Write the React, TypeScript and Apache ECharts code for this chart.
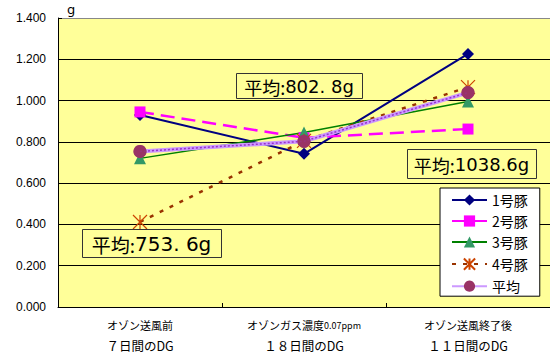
import React, { useEffect, useRef } from "react";
import * as echarts from "echarts";

// Daily gain (kg/day) per pig across the three ozone periods
const catTop = ["オゾン送風前", "オゾンガス濃度0.07ppm", "オゾン送風終了後"];
const catBottom = ["７日間のDG", "１８日間のDG", "１１日間のDG"];

const pig1 = [0.93, 0.742, 1.226];
const pig2 = [0.945, 0.82, 0.862];
const pig3 = [0.72, 0.845, 0.995];
const pig4 = [0.412, 0.805, 1.065];
const average = [0.7536, 0.8028, 1.0386];

const seriesNames = ["1号豚", "2号豚", "3号豚", "4号豚", "平均"];
const yTicks = [0, 0.2, 0.4, 0.6, 0.8, 1.0, 1.2, 1.4];

// decimal separator used in each average callout
const avgSep = [". ", ". ", "."];

const CJK = '"Noto Sans CJK JP", "Noto Sans CJK SC", sans-serif';

function avgText(v: number, sep: string): string {
  const s = (v * 1000).toFixed(1).split(".");
  return `{h|平均:}{n|${s[0]}${sep}${s[1]}g}`;
}

// callout boxes: [x, y, w, h, cjkSize, numSize]
const boxes: number[][] = [
  [82, 229, 139, 28, 19, 20],
  [236, 73, 126, 25, 18, 18],
  [407, 149, 129, 29, 18, 18],
];

export default function App() {
  const ref = useRef<HTMLDivElement>(null);

  useEffect(() => {
    if (!ref.current) return;
    const chart = echarts.init(ref.current, null, { renderer: "svg" });

    const callouts = boxes.map((b, i) => ({
      type: "group",
      children: [
        {
          type: "rect",
          shape: { x: b[0] + 0.5, y: b[1] + 0.5, width: b[2], height: b[3] },
          style: { fill: "none", stroke: "#333", lineWidth: 1 },
          z: 20,
        },
        {
          type: "text",
          x: b[0] + b[2] / 2,
          y: b[1] + b[3] / 2 + 1,
          z: 21,
          style: {
            text: avgText(average[i], avgSep[i]),
            align: "center",
            verticalAlign: "middle",
            fill: "#000",
            rich: {
              h: { fontFamily: CJK, fontSize: b[4], fill: "#000" },
              n: { fontFamily: '"DejaVu Sans", sans-serif', fontSize: b[5], fill: "#000" },
            },
          },
        },
      ],
    }));

    chart.setOption({
      animation: false,
      backgroundColor: "#fff",
      grid: {
        left: 58,
        top: 18,
        width: 495,
        height: 289,
        show: true,
        backgroundColor: "#FFFF99",
        borderWidth: 0,
      },
      legend: {
        data: seriesNames,
        orient: "vertical",
        left: 440,
        top: 188,
        padding: [5, 12, 3, 11],
        itemWidth: 35,
        itemHeight: 14,
        itemGap: 7,
        backgroundColor: "#fff",
        borderColor: "#000",
        borderWidth: 1,
        borderRadius: 0,
        textStyle: { fontFamily: CJK, fontSize: 14, color: "#000", lineHeight: 14 },
      },
      xAxis: {
        type: "category",
        data: catTop.map((t, i) => t + "\n" + catBottom[i]),
        boundaryGap: true,
        axisLine: { lineStyle: { color: "#000", width: 1 } },
        axisTick: { show: true, inside: true, length: 4, interval: 0, lineStyle: { color: "#000" } },
        axisLabel: {
          interval: 0,
          margin: 8,
          formatter: (v: string) => {
            const [a, b] = v.split("\n");
            const top = a.replace(/([0-9.]+ppm)/, "}{s|$1}{a|");
            return `{a|${top}}\n{b|${b}}`;
          },
          rich: {
            a: { fontFamily: CJK, fontSize: 11, color: "#000", lineHeight: 20 },
            s: { fontFamily: CJK, fontSize: 9, color: "#000", lineHeight: 20 },
            b: { fontFamily: CJK, fontSize: 12.5, color: "#000", lineHeight: 20 },
          },
        },
      },
      yAxis: {
        type: "value",
        min: yTicks[0],
        max: yTicks[yTicks.length - 1],
        interval: 0.2,
        axisLine: { show: true, lineStyle: { color: "#000", width: 1 } },
        axisTick: { show: true, inside: true, length: 4, lineStyle: { color: "#000" } },
        axisLabel: {
          margin: 12,
          fontFamily: '"Liberation Sans", Arial, sans-serif',
          fontSize: 12,
          color: "#000",
          formatter: (v: number) => v.toFixed(3),
        },
        splitLine: {
          lineStyle: {
            color: ["#000", "#000", "#000", "#000", "#000", "#000", "#000", "#888"],
            width: 1,
          },
        },
      },
      graphic: [
        {
          type: "text",
          x: 67,
          y: 3,
          style: { text: "g", fontFamily: '"DejaVu Sans", sans-serif', fontSize: 13, fill: "#000" },
        },
        ...callouts,
      ],
      series: [
        {
          name: "1号豚",
          type: "line",
          data: pig1,
          symbol: "diamond",
          symbolSize: 12,
          z: 3,
          lineStyle: { color: "#000080", width: 2 },
          itemStyle: { color: "#000080" },
        },
        {
          name: "2号豚",
          type: "line",
          data: pig2,
          symbol: "rect",
          symbolSize: 11,
          z: 3,
          lineStyle: { color: "#FF00FF", width: 2.5, type: [14, 7] },
          itemStyle: { color: "#FF00FF" },
        },
        {
          name: "3号豚",
          type: "line",
          data: pig3,
          symbol: "triangle",
          symbolSize: 12,
          z: 3,
          lineStyle: { color: "#008000", width: 1.5 },
          itemStyle: { color: "#339966" },
        },
        {
          name: "4号豚",
          type: "line",
          data: pig4,
          symbol: "path://M0,0L10,10M10,0L0,10M5,0L5,10",
          symbolSize: 14,
          z: 3,
          lineStyle: { color: "#993300", width: 2.5, type: [4, 7] },
          itemStyle: { color: "none", borderColor: "#CC4400", borderWidth: 1.2 },
        },
        {
          name: "平均",
          type: "line",
          data: average,
          symbol: "circle",
          symbolSize: 13,
          z: 4,
          lineStyle: { color: "#CC99FF", width: 4 },
          itemStyle: { color: "#993366" },
        },
        {
          name: "平均-dots",
          type: "line",
          data: average,
          symbol: "none",
          silent: true,
          z: 5,
          lineStyle: { color: "#9933CC", width: 1.5, type: [2, 2] },
        },
        {
          name: "平均-marks",
          type: "scatter",
          data: average,
          symbol: "circle",
          symbolSize: 13,
          silent: true,
          z: 6,
          itemStyle: { color: "#993366" },
        },
      ],
    });

    return () => chart.dispose();
  }, []);

  return (
    <div
      ref={ref}
      style={{ position: "absolute", left: 0, top: 0, width: 550, height: 356, background: "#fff" }}
    />
  );
}
